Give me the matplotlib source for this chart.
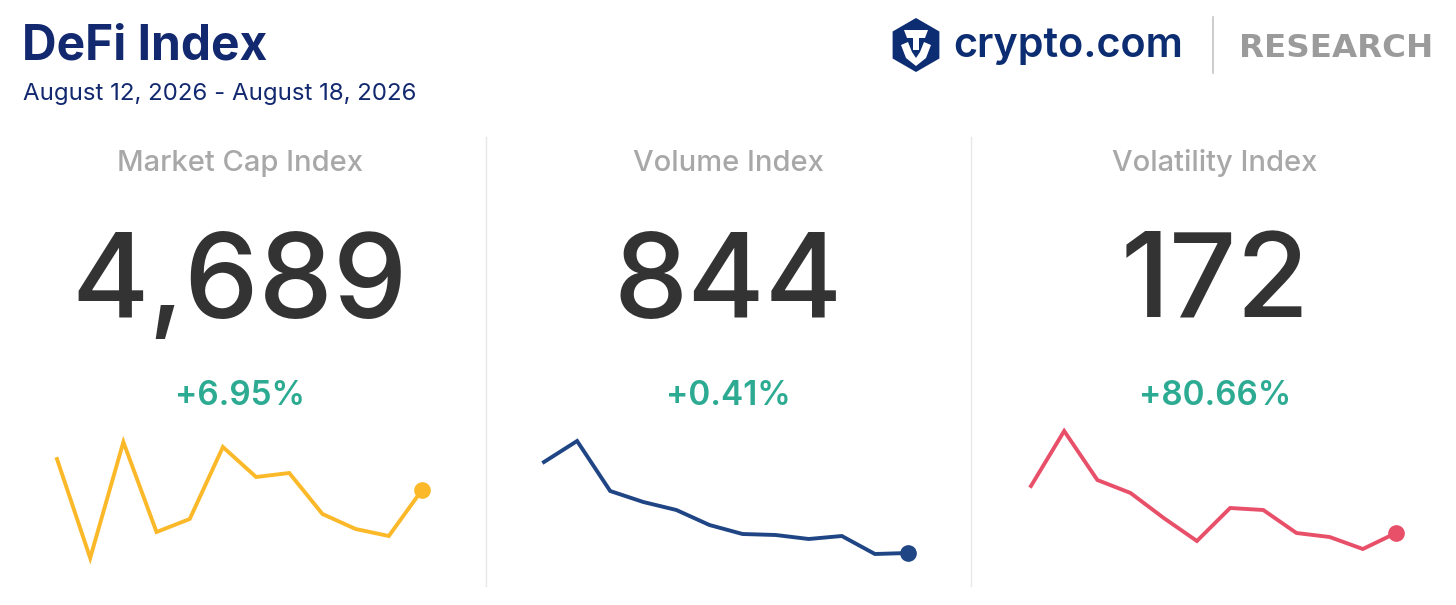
import matplotlib
matplotlib.use("Agg")
import matplotlib.pyplot as plt
from matplotlib.patches import RegularPolygon, Polygon, Rectangle

plt.rcParams['font.family'] = ['Inter', 'DejaVu Sans']

# 数据
title = "DeFi Index"
subtitle = "August 12, 2026 - August 18, 2026"
panel_names = ["Market Cap Index", "Volume Index", "Volatility Index"]
panel_values = ["4,689", "844", "172"]
panel_changes = ["+6.95%", "+0.41%", "+80.66%"]

# 每日走势（无坐标轴，按图读取的相对数值）
market_cap = [141, 42, 158, 68, 81, 153, 123, 127, 86, 71, 64, 110]
volume = [138, 159, 109, 98, 90, 75, 66, 65, 61, 64, 46, 47]
volatility = [114, 169, 120, 107, 82, 59, 92, 90, 67, 63, 51, 67]
series = [market_cap, volume, volatility]
line_colors = ['#fbb92a', '#1f4584', '#e8506a']

W, H = 1456, 605
fig = plt.figure(figsize=(W / 100, H / 100), dpi=100)

# 背景画布，像素坐标
bg = fig.add_axes([0, 0, 1, 1])
bg.set_xlim(0, W)
bg.set_ylim(H, 0)
bg.axis('off')

navy = '#13296f'
bg.text(22, 59, title, fontsize=34.5, fontweight='bold', color=navy, ha='left', va='baseline')
bg.text(23, 100, subtitle, fontsize=17.3, color=navy, ha='left', va='baseline')

# logo
bg.add_patch(RegularPolygon((916, 45), numVertices=6, radius=27, orientation=0,
                            facecolor='#0c2d72', edgecolor='none'))
bg.add_patch(Polygon([[904, 30], [928, 30], [925, 38], [907, 38]], closed=True,
                     facecolor='white', edgecolor='none'))
bg.add_patch(Polygon([[901, 45], [908, 42], [912, 52], [916, 58], [920, 52], [924, 42],
                      [931, 45], [926, 58], [916, 66], [906, 58]], closed=True,
                     facecolor='white', edgecolor='none'))
bg.add_patch(Rectangle((913, 38), 6, 12, facecolor='white', edgecolor='none'))
bg.text(953, 57, "crypto.com", fontsize=29.8, fontweight='semibold', color='#0c2d72',
        ha='left', va='baseline')
bg.plot([1213, 1213], [17, 73], color='#c4c4c4', linewidth=1.2)
bg.text(1239, 57, "RESEARCH", fontsize=23.4, fontweight='bold', color='#9b9b9b',
        ha='left', va='baseline', family='DejaVu Sans')

# 分隔线
for xd in [486, 971]:
    bg.plot([xd, xd], [137, 586], color='#e8e8e8', linewidth=1)

centers = [240, 728, 1215]
for cx, name, val, chg in zip(centers, panel_names, panel_values, panel_changes):
    bg.text(cx, 171, name, fontsize=21, fontweight='medium', color='#a8a8a8',
            ha='center', va='baseline')
    bg.text(cx, 318, val, fontsize=85, fontweight='medium', color='#333333',
            ha='center', va='baseline')
    bg.text(cx, 405, chg, fontsize=24, fontweight='semibold', color='#2cab92',
            ha='center', va='baseline')

# 走势线
x_ranges = [(57, 422), (544, 908), (1031, 1396)]
for (x0, x1), data, col in zip(x_ranges, series, line_colors):
    ax = fig.add_axes([x0 / W, 1 - 570 / H, (x1 - x0) / W, 150 / H])
    ax.set_xlim(0, len(data) - 1)
    ax.set_ylim(30, 180)
    ax.axis('off')
    ax.plot(range(len(data)), data, color=col, linewidth=2.8, clip_on=False,
            solid_joinstyle='miter')
    ax.plot(len(data) - 1, data[-1], marker='o', markersize=11, color=col, clip_on=False)

fig.savefig("out.png", dpi=100)
